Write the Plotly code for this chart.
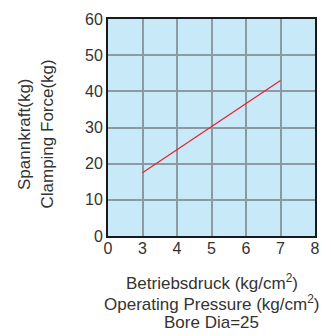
import plotly.graph_objects as go

# pressure axis categories (non-linear: 0 then 3..8)
pressure_ticks = ["0", "3", "4", "5", "6", "7", "8"]
force_ticks = [0, 10, 20, 30, 40, 50, 60]

# clamping force line, bore dia 25
pressure = ["3", "7"]
force = [17.5, 43]

y_title = ["Spannkraft(kg)", "Clamping Force(kg)"]
x_title = ["Betriebsdruck (kg/cm<sup>2</sup>)",
           "Operating Pressure (kg/cm<sup>2</sup>)",
           "Bore Dia=25"]

fnt = "Liberation Sans"
txt = "#333333"

fig = go.Figure()
fig.add_trace(go.Scatter(
    x=pressure, y=force, mode="lines",
    line=dict(color="#e8212b", width=1.2),
    showlegend=False,
))

grid_color = "#8d9aa3"
fig.update_xaxes(
    type="category", categoryorder="array", categoryarray=pressure_ticks,
    range=[0, 6], showgrid=True, gridcolor=grid_color, gridwidth=2,
    showline=True, linecolor="#1a1a1a", linewidth=2, mirror=True,
    ticks="", ticklabelstandoff=-3,
    tickfont=dict(family=fnt, size=16, color=txt),
    zeroline=False,
)
fig.update_yaxes(
    range=[0, 60], tickvals=force_ticks, showgrid=True, gridcolor=grid_color,
    gridwidth=2, showline=True, linecolor="#1a1a1a", linewidth=2, mirror=True,
    ticks="", tickfont=dict(family=fnt, size=16, color=txt),
    zeroline=False,
)

# rotated y title, two lines
for xp, t in zip([-0.406, -0.297], y_title):
    fig.add_annotation(
        text=t, xref="paper", yref="paper", x=xp, y=0.47, textangle=-90,
        showarrow=False, xanchor="center", yanchor="middle",
        font=dict(family=fnt, size=17, color=txt),
    )
# x title, three lines
for yp, t in zip([-0.213, -0.308, -0.398], x_title):
    fig.add_annotation(
        text=t, xref="paper", yref="paper", x=0.5, y=yp, showarrow=False,
        xanchor="center", yanchor="middle",
        font=dict(family=fnt, size=17, color=txt),
    )

fig.update_layout(
    width=331, height=336,
    margin=dict(l=108, r=11, t=15, b=100),
    plot_bgcolor="#c8e9f8", paper_bgcolor="white",
)

fig.write_html("out.html", config={"displayModeBar": False},
               post_script="document.body.style.margin='0';")
